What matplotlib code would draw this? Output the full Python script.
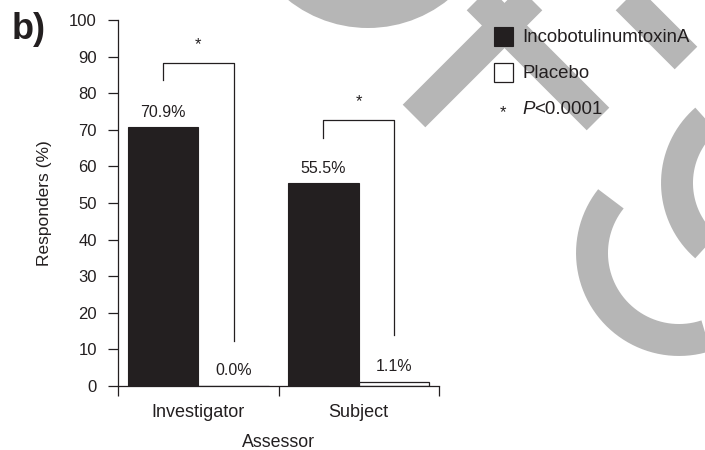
import numpy as np
import matplotlib
matplotlib.use("Agg")
import matplotlib.pyplot as plt
from matplotlib.patches import Rectangle, Circle

plt.rcParams["font.family"] = ["Liberation Sans", "DejaVu Sans"]

# Responder rates (%) by assessor
assessors = ["Investigator", "Subject"]
inco_rates = [70.9, 55.5]
placebo_rates = [0.0, 1.1]
series_names = ["IncobotulinumtoxinA", "Placebo"]
p_label = "<0.0001"

DARK = "#231f20"
WM = "#b6b6b6"

fig = plt.figure(figsize=(7.05, 4.5), dpi=100)

# full-figure layer in pixel units for the watermark, panel tag and key
bg = fig.add_axes([0, 0, 1, 1])
bg.set_xlim(0, 705)
bg.set_ylim(450, 0)
bg.axis("off")
bg.set_zorder(0)

band = dict(color=WM, lw=23, solid_capstyle="butt", zorder=1)
bg.plot([414, 554], [116, -24], **band)
bg.plot([598, 458], [119, -21], **band)
bg.plot([686, 596], [58, -32], **band)
bg.add_patch(Circle((368, -100), 128, facecolor=WM, edgecolor="none",
                    zorder=1))
t = np.radians(np.linspace(218.5, 20, 200))
bg.plot(679 + 87 * np.cos(t), 253 + 87 * np.sin(t), **band)
t = np.radians(np.linspace(250, 110, 200))
bg.plot(761 + 84 * np.cos(t), 183 + 84 * np.sin(t), **band)

bg.text(12, 39, "b)", fontsize=26, fontweight="bold", color=DARK,
        va="baseline", ha="left", zorder=5)

# key
bg.add_patch(Rectangle((494, 27), 19, 19, facecolor=DARK, edgecolor=DARK,
                       lw=0.8, zorder=5))
bg.add_patch(Rectangle((494, 63), 19, 19, facecolor="white", edgecolor=DARK,
                       lw=0.9, zorder=5))
bg.text(522, 37, series_names[0], fontsize=13.4, color=DARK, va="center",
        zorder=5)
bg.text(522, 73, series_names[1], fontsize=13.4, color=DARK, va="center",
        zorder=5)
bg.text(503, 113, "*", fontsize=12, color=DARK, va="center", ha="center",
        zorder=5)
p_txt = bg.text(522, 109, "P", fontsize=13.4, color=DARK, va="center",
                style="italic", zorder=5)
bg.annotate(p_label, xy=(1, 0), xycoords=p_txt, fontsize=13.4, color=DARK,
            va="bottom", ha="left", zorder=5)

# main chart
ax = fig.add_axes([118 / 705, 64 / 450, 321 / 705, 366 / 450])
ax.set_zorder(2)
ax.patch.set_alpha(0)

x = np.arange(len(assessors))
w = 0.44
ax.bar(x - w / 2, inco_rates, w, color=DARK, edgecolor=DARK, linewidth=0.8)
ax.bar(x + w / 2, placebo_rates, w, color="white", edgecolor=DARK,
       linewidth=0.9)

for xi, v in zip(x - w / 2, inco_rates):
    ax.text(xi, v + 2.7, f"{v:.1f}%", ha="center", va="baseline",
            fontsize=11.5, color=DARK)
for xi, v in zip(x + w / 2, placebo_rates):
    ax.text(xi, v + 2.9, f"{v:.1f}%", ha="center", va="baseline",
            fontsize=11.5, color=DARK)

# significance brackets: (top, left leg end, right leg end, star height)
brackets = [(88.3, 83.6, 12.3, 93.2), (72.7, 67.8, 13.9, 77.6)]
for xi, (top, left_end, right_end, star_y) in zip(x, brackets):
    x0, x1 = xi - w / 2, xi + w / 2
    ax.plot([x0, x0, x1, x1], [left_end, top, top, right_end],
            color=DARK, lw=0.9)
    ax.text(xi, star_y, "*", ha="center", va="center", fontsize=12,
            color=DARK)

ax.set_xlim(-0.5, 1.5)
ax.set_ylim(0, 100)
ax.set_yticks(np.arange(0, 101, 10))
ax.set_xticks([-0.5, 0.5, 1.5])
ax.set_xticklabels([])
ax.set_xticks(x, minor=True)
ax.set_xticklabels(assessors, minor=True)

for s in ["top", "right"]:
    ax.spines[s].set_visible(False)
for s in ["left", "bottom"]:
    ax.spines[s].set_color(DARK)
    ax.spines[s].set_linewidth(0.9)

ax.tick_params(axis="both", which="major", direction="out", length=7.2,
               width=0.9, color=DARK, labelcolor=DARK, labelsize=12)
ax.tick_params(axis="y", pad=8)
ax.tick_params(axis="x", which="minor", length=0, pad=13, labelsize=13,
               labelcolor=DARK)

ax.set_ylabel("Responders (%)", fontsize=12.5, color=DARK, labelpad=12)
ax.set_xlabel("Assessor", fontsize=12.8, color=DARK, labelpad=9)

fig.savefig("out.png", dpi=100)
